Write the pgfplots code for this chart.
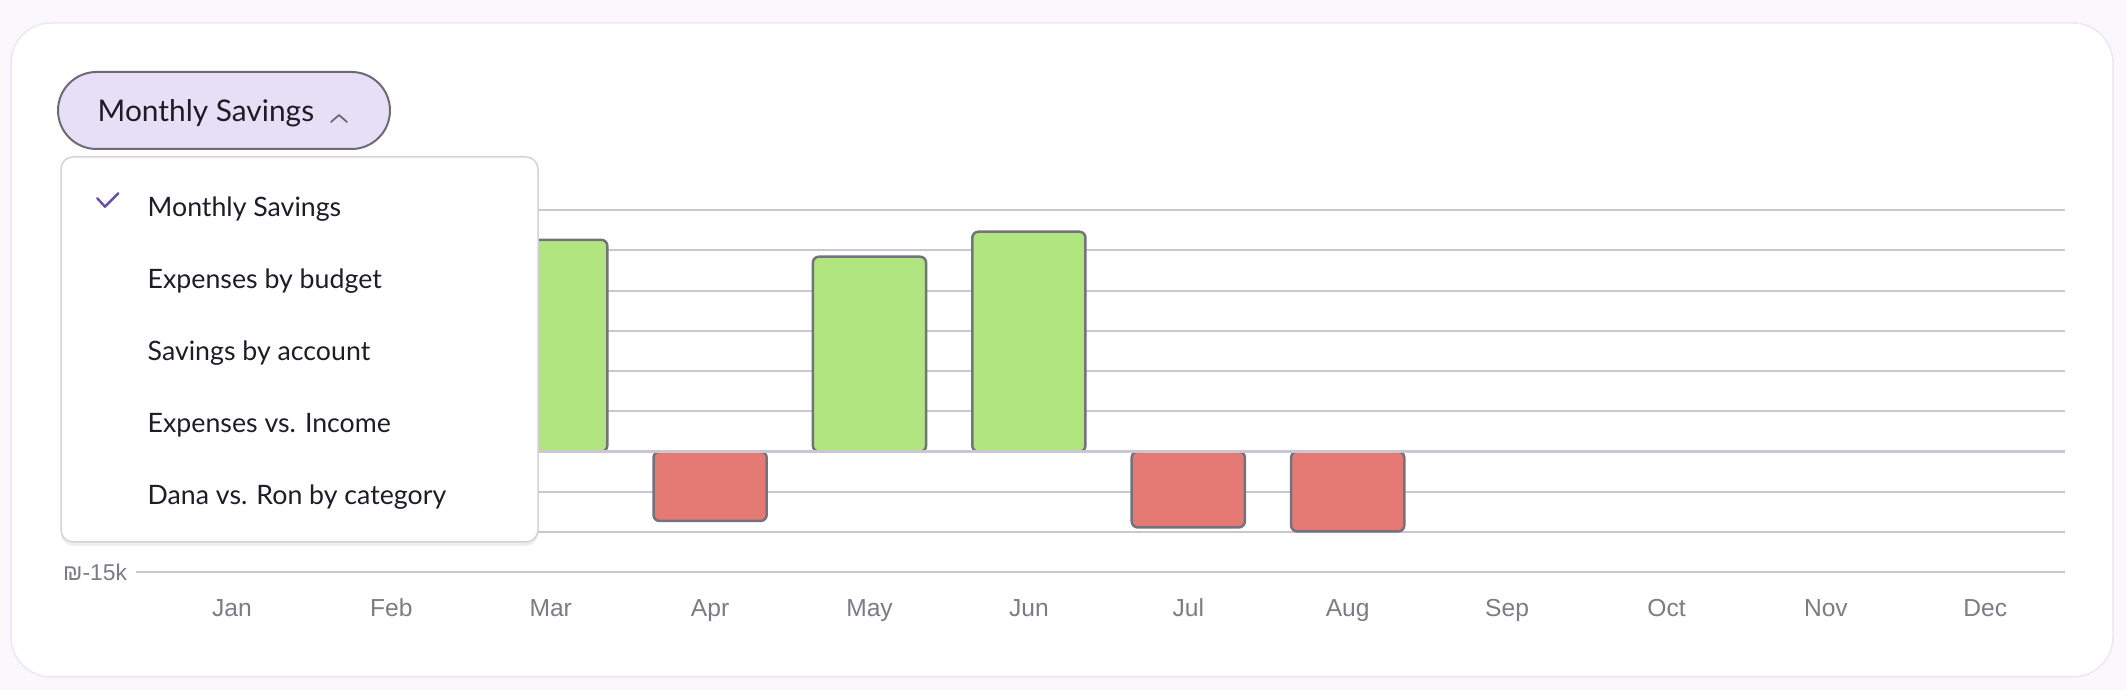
\documentclass[border=0pt]{standalone}
\usepackage{fontspec}
\setmainfont{Lato}
\newfontfamily\tickfont{Liberation Sans}
\usepackage{pgfplots}
\pgfplotsset{compat=1.18}
\usetikzlibrary{shadows}

\definecolor{pagebg}{HTML}{FBF8FD}
\definecolor{cardline}{HTML}{ECE7F0}
\definecolor{gridc}{HTML}{CBC6D3}
\definecolor{barline}{HTML}{76727D}
\definecolor{posbar}{HTML}{B0E57F}
\definecolor{negbar}{HTML}{E57A74}
\definecolor{tickc}{HTML}{7F7B86}
\definecolor{btnfill}{HTML}{E6DFF5}
\definecolor{btnline}{HTML}{6E6A75}
\definecolor{menuline}{HTML}{D5D0DB}
\definecolor{inkc}{HTML}{1E1C27}
\definecolor{checkc}{HTML}{6550A8}

\begin{document}
\begin{tikzpicture}[x=0.1mm,y=0.1mm]
% page and card
\fill[pagebg] (0,0) rectangle (2126,690);
\draw[cardline, fill=white, line width=0.15mm, rounded corners=4mm] (11,13) rectangle (2113,667);

\begin{axis}[
    at={(15.22mm,11.75mm)}, anchor=south west,
    scale only axis, width=191.28mm, height=36.25mm,
    xmin=-0.5, xmax=11.5,
    ymin=-15000, ymax=30000,
    xtick={0,...,11},
    xticklabels={Jan,Feb,Mar,Apr,May,Jun,Jul,Aug,Sep,Oct,Nov,Dec},
    ytick={-15000,-10000,...,30000},
    yticklabels={₪-15k,₪-10k,₪-5k,₪0,₪5k,₪10k,₪15k,₪20k,₪25k,₪30k},
    scaled y ticks=false,
    axis line style={draw=none},
    x tick style={draw=none},
    y tick style={gridc, line width=0.2mm},
    ytick pos=left,
    tick align=outside,
    major tick length=1.65mm,
    ymajorgrids,
    major grid style={gridc, line width=0.2mm},
    xticklabel style={font=\tickfont\fontsize{7}{8}\selectfont, text=tickc, anchor=base, yshift=-2.75mm, inner sep=0pt},
    yticklabel style={font=\tickfont\fontsize{6.5}{8}\selectfont, text=tickc, anchor=east, inner sep=0pt, xshift=-0.8mm},
    ybar, bar width=0.71,
    clip=false,
]
\addplot[bar shift=0pt, fill=posbar, draw=barline, line width=0.25mm, rounded corners=0.6mm]
    coordinates {(2,26300) (4,24200) (5,27300)};
\addplot[bar shift=0pt, fill=negbar, draw=barline, line width=0.25mm, rounded corners=0.6mm]
    coordinates {(3,-8600) (6,-9400) (7,-9900)};
% bars carry no border along the zero line
\draw[gridc, line width=0.3mm] (axis cs:-0.5,0) -- (axis cs:11.5,0);
\end{axis}

% selector button
\draw[btnline, fill=btnfill, line width=0.2mm, rounded corners=3.85mm] (58,541) rectangle (390,618);
\node[anchor=base west, inner sep=0pt, text=inkc, font=\fontsize{8.5}{10}\selectfont] at (97,568.3) {Monthly Savings};
\draw[btnline, line width=0.18mm, line cap=round, line join=round] (331,568) -- (339,575) -- (347,568);

% dropdown menu
\draw[menuline, fill=white, line width=0.15mm, rounded corners=1.2mm,
      drop shadow={opacity=0.12, shadow xshift=0mm, shadow yshift=-0.4mm}] (61,148) rectangle (538,533);
\draw[checkc, line width=0.24mm, line cap=round, line join=round] (97.3,491.7) -- (105,483.3) -- (118.3,496.7);
\begin{scope}[every node/.style={anchor=base west, inner sep=0pt, text=inkc, font=\fontsize{7.6}{9.2}\selectfont}]
\node at (147,473.3) {Monthly Savings};
\node at (147,401.4) {Expenses by budget};
\node at (147,329.5) {Savings by account};
\node at (147,257.6) {Expenses vs. Income};
\node at (147,185.7) {Dana vs. Ron by category};
\end{scope}

\pgfresetboundingbox
\useasboundingbox (0,0) rectangle (2126,690);
\end{tikzpicture}
\end{document}
